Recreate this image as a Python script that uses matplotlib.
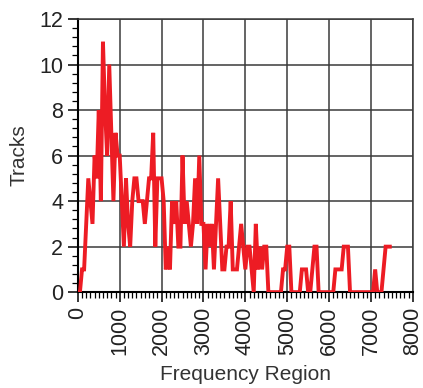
import matplotlib
matplotlib.use("Agg")
import matplotlib.pyplot as plt
import matplotlib.ticker as ticker
import numpy as np

plt.rcParams['font.family'] = ['Liberation Sans', 'DejaVu Sans']

# frequency bins (Hz), 50 Hz apart
freq = np.arange(0, 7500, 50)
tracks = [
    0, 0, 1, 1, 3, 5, 4, 3, 6, 5,          # 0 - 450
    8, 4, 11, 8, 6, 10, 7, 4, 7, 6,        # 500 - 950
    6, 4, 2, 5, 3, 2, 4, 5, 5, 4,          # 1000 - 1450
    4, 4, 3, 4, 5, 5, 7, 2, 5, 5,          # 1500 - 1950
    5, 4, 1, 2, 1, 4, 3, 4, 2, 2,          # 2000 - 2450
    6, 3, 4, 3, 2, 3, 5, 3, 6, 3,          # 2500 - 2950
    3, 1, 3, 2, 3, 1, 3, 5, 3, 1,          # 3000 - 3450
    1, 2, 2, 4, 1, 1, 1, 2, 3, 2,          # 3500 - 3950
    1, 2, 2, 1, 0, 3, 1, 2, 1, 2,          # 4000 - 4450
    2, 0, 0, 0, 0, 0, 0, 0, 1, 1,          # 4500 - 4950
    2, 2, 0, 0, 0, 0, 0, 1, 1, 1,          # 5000 - 5450
    0, 0, 1, 2, 2, 0, 0, 0, 0, 0,          # 5500 - 5950
    0, 0, 0, 1, 1, 1, 1, 2, 2, 2,          # 6000 - 6450
    0, 0, 0, 0, 0, 0, 0, 0, 0, 0,          # 6500 - 6950
    0, 0, 1, 0, 0, 0, 1, 2, 2, 2,          # 7000 - 7450
]

fig = plt.figure(figsize=(4.23, 3.88), dpi=100)
ax = fig.add_axes([0.184, 0.247, 0.792, 0.704])

ax.plot(freq, tracks, color='#ED1C24', lw=2.8, solid_joinstyle='miter', zorder=3)

ax.set_xlim(0, 8000)
ax.set_ylim(0, 12)
ax.xaxis.set_major_locator(ticker.MultipleLocator(1000))
ax.xaxis.set_minor_locator(ticker.MultipleLocator(100))
ax.yaxis.set_major_locator(ticker.MultipleLocator(2))
ax.yaxis.set_minor_locator(ticker.MultipleLocator(0.4))

ax.grid(True, which='major', color='#3a3a3a', lw=1.1)
ax.set_axisbelow(True)
for s in ['top', 'right']:
    ax.spines[s].set_color('#3a3a3a')
    ax.spines[s].set_linewidth(1.1)
for s in ['left', 'bottom']:
    ax.spines[s].set_color('black')
    ax.spines[s].set_linewidth(1.5)

ax.tick_params(which='major', direction='out', length=7, width=1.1, labelsize=15.5, colors='black')
ax.tick_params(which='minor', direction='out', length=4, width=0.9)
plt.setp(ax.get_xticklabels(), rotation=90)
for lab in ax.get_xticklabels() + ax.get_yticklabels():
    lab.set_color('#222222')

ax.set_xlabel("Frequency Region", fontsize=15, color='#333333', labelpad=7)
ax.set_ylabel("Tracks", fontsize=15, color='#333333', labelpad=8)

fig.savefig("out.png", dpi=100)
